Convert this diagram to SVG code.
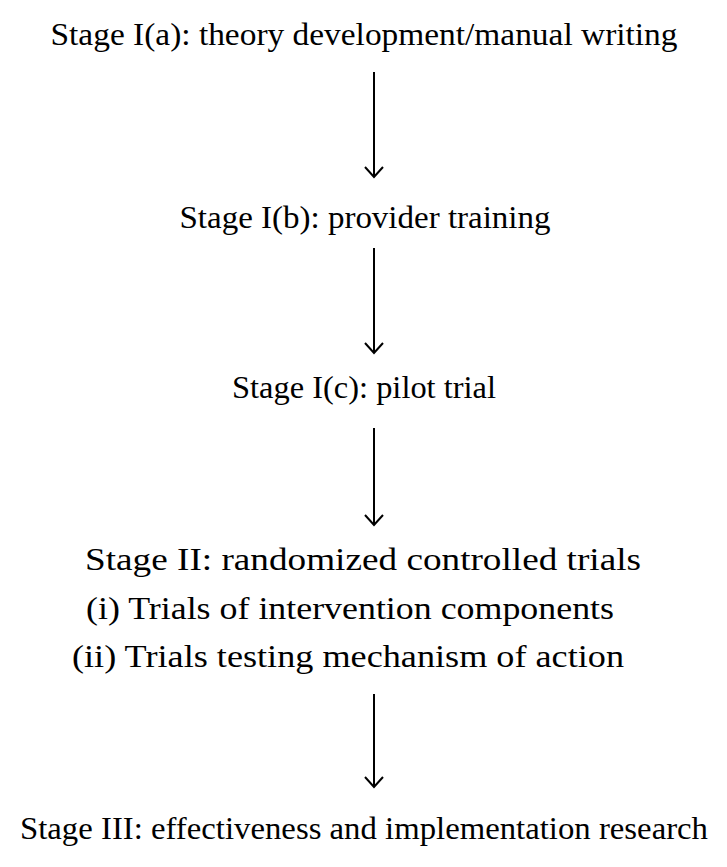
<svg xmlns="http://www.w3.org/2000/svg" width="727" height="867" viewBox="0 0 727 867">
<style>
text{font-family:"Liberation Serif","Times New Roman",Times,serif;font-size:32px;fill:#000;text-anchor:middle}
.c{stroke:#000;stroke-width:2;fill:none}
</style>
<rect width="727" height="867" fill="#fff"/>
<g id="n1"><text x="364" y="45" textLength="627" lengthAdjust="spacingAndGlyphs">Stage I(a): theory development/manual writing</text></g>
<g id="n2"><text x="365" y="228" textLength="371" lengthAdjust="spacingAndGlyphs">Stage I(b): provider training</text></g>
<g id="n3"><text x="364" y="398" textLength="264" lengthAdjust="spacingAndGlyphs">Stage I(c): pilot trial</text></g>
<g id="n4">
<text x="363" y="570" textLength="556" lengthAdjust="spacingAndGlyphs">Stage II: randomized controlled trials</text>
<text x="350" y="619" textLength="528" lengthAdjust="spacingAndGlyphs">(i) Trials of intervention components</text>
<text x="348" y="667" textLength="552" lengthAdjust="spacingAndGlyphs">(ii) Trials testing mechanism of action</text>
</g>
<g id="n5"><text x="364" y="839" textLength="688" lengthAdjust="spacingAndGlyphs">Stage III: effectiveness and implementation research</text></g>
<g id="connectors">
<path class="c" d="M374,72 V177"/>
<path class="c" d="M365,167 L374,177 L383,167"/>
<path class="c" d="M374,248 V353"/>
<path class="c" d="M365,343 L374,353 L383,343"/>
<path class="c" d="M374,428 V525"/>
<path class="c" d="M365,515 L374,525 L383,515"/>
<path class="c" d="M374,694 V787"/>
<path class="c" d="M365,777 L374,787 L383,777"/>
</g>
</svg>
